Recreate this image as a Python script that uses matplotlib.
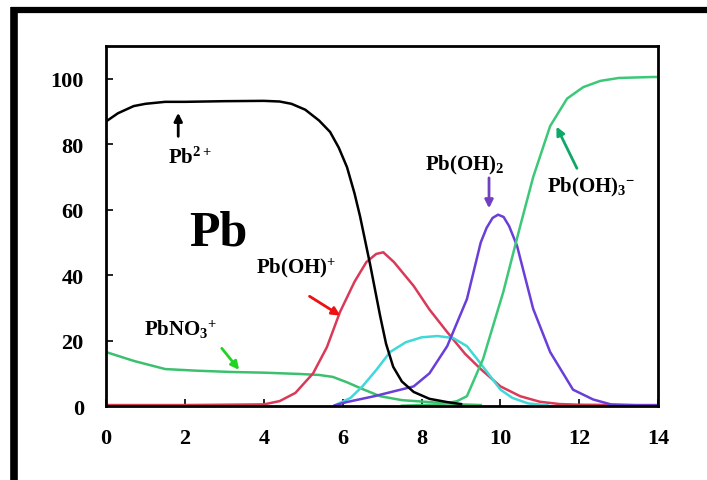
import numpy as np
import matplotlib.pyplot as plt
from matplotlib.lines import Line2D

plt.rcParams['font.family'] = ['Liberation Serif', 'DejaVu Serif']
plt.rcParams['font.weight'] = 'bold'
plt.rcParams['mathtext.fontset'] = 'custom'
plt.rcParams['mathtext.rm'] = 'Liberation Serif:bold'
plt.rcParams['mathtext.it'] = 'Liberation Serif:bold'
plt.rcParams['mathtext.bf'] = 'Liberation Serif:bold'

# 数据 (pH, %)---------------------------------------------------------------
pb2_x = [0, 0.3, 0.7, 1.0, 1.5, 2, 3, 4, 4.4, 4.7, 5.05, 5.4, 5.68, 5.9, 6.11,
         6.3, 6.44, 6.7, 6.95, 7.1, 7.28, 7.5, 7.8, 8.2, 8.65, 9.0]
pb2_y = [87, 89.5, 91.7, 92.4, 93, 93, 93.2, 93.3, 93.1, 92.4, 90.6, 87.3, 83.8, 79, 73,
         65, 58, 43, 27.5, 19, 12, 7.5, 4.3, 2.2, 1.2, 0.6]

pboh_x = [0, 2, 4, 4.4, 4.8, 5.25, 5.6, 5.93, 6.3, 6.6, 6.85, 7.03, 7.3, 7.8, 8.2,
          8.65, 9.1, 9.5, 10, 10.5, 11, 11.5, 12, 13, 14]
pboh_y = [0.3, 0.3, 0.5, 1.5, 4, 10, 18, 28.7, 38, 44, 46.5, 47, 44, 36.7, 29.5,
          22.6, 16, 11.3, 6, 3, 1.3, 0.6, 0.4, 0.3, 0.3]

cyan_x = [5.8, 6.2, 6.5, 6.85, 7.2, 7.6, 8.0, 8.4, 8.8, 9.15, 9.4, 9.66, 10.0, 10.3, 10.7, 11.2]
cyan_y = [0.2, 2.5, 6, 11, 16.5, 19.5, 21, 21.4, 20.8, 18.3, 14.5, 10.4, 5, 2.5, 0.8, 0.2]

pboh2_x = [5.8, 6.1, 6.8, 7.3, 7.8, 8.2, 8.65, 9.15, 9.5, 9.65, 9.8, 9.94, 10.08, 10.22, 10.42,
           10.83, 11.26, 11.84, 12.35, 12.8, 13.5, 14]
pboh2_y = [0.2, 1.2, 3, 4.5, 6, 10, 18.3, 32.7, 50, 54.5, 57.5, 58.5, 57.8, 55, 49,
           29.7, 16.5, 5, 2, 0.5, 0.2, 0.2]

pboh3_x = [7.5, 8.5, 8.9, 9.15, 9.56, 10.07, 10.5, 10.83, 11.26, 11.69, 12.1, 12.53, 13.0, 13.87, 14]
pboh3_y = [0.1, 0.5, 1.5, 3, 14.4, 34.8, 55, 70, 85.6, 94, 97.5, 99.4, 100.3, 100.6, 100.6]

pbno3_x = [0, 0.7, 1.5, 2.3, 3.2, 4.0, 4.9, 5.4, 5.75, 6.1, 6.5, 6.95, 7.5, 8.2, 9.0, 9.5]
pbno3_y = [16.5, 13.8, 11.3, 10.8, 10.4, 10.2, 9.8, 9.5, 8.9, 7.3, 5.2, 3, 1.8, 1.2, 0.5, 0.3]

xticks = [0, 2, 4, 6, 8, 10, 12, 14]
yticks = [0, 20, 40, 60, 80, 100]

# 绘图---------------------------------------------------------------
fig = plt.figure(figsize=(7.07, 4.81), dpi=100)
ax = fig.add_axes([0.150, 0.1538, 0.781, 0.748])

lw = 1.8
ax.plot(pbno3_x, pbno3_y, color='#3cc070', lw=lw)
ax.plot(pboh_x, pboh_y, color='#d83a58', lw=lw)
ax.plot(cyan_x, cyan_y, color='#40d8d8', lw=lw)
ax.plot(pboh2_x, pboh2_y, color='#6a3ed8', lw=lw)
ax.plot(pboh3_x, pboh3_y, color='#3cc878', lw=lw)
ax.plot(pb2_x, pb2_y, color='black', lw=lw)

ax.set_xlim(0, 14)
ax.set_ylim(0, 110)
ax.set_xticks(xticks)
ax.set_yticks(yticks)
ax.tick_params(direction='in', length=5, width=1.2, labelsize=16, pad=16)
for s in ax.spines.values():
    s.set_linewidth(2)

# 标注
ax.text(2.84, 53, 'Pb', fontsize=36, ha='center', va='center')

labels = [
    (r'Pb$^{2+}$', 2.13, 76.0, (1.83, 81.6), (1.83, 90.5), 'black'),
    (r'Pb(OH)$^{+}$', 4.82, 42.5, (5.1, 34), (6.0, 27.2), '#ee1111'),
    (r'PbNO$_3$$^{+}$', 1.88, 23.5, (2.89, 18.3), (3.42, 10.4), '#22d422'),
    (r'Pb(OH)$_2$', 9.1, 73.7, (9.71, 70.6), (9.71, 59.6), '#7040c0'),
    (r'Pb(OH)$_3$$^{-}$', 12.3, 67, (11.97, 71.9), (11.39, 86.2), '#10a868'),
]
for txt, tx, ty, start, end, c in labels:
    ax.text(tx, ty, txt, fontsize=15, ha='center', va='center')
    ax.annotate('', xy=end, xytext=start,
                arrowprops=dict(arrowstyle='-|>', color=c, lw=2, mutation_scale=12))

# 外框
fig.add_artist(Line2D([0.0194, 0.0194], [0, 0.984], transform=fig.transFigure,
                      color='black', lw=5.5, solid_capstyle='butt'))
fig.add_artist(Line2D([0.0155, 1.0], [0.978, 0.978], transform=fig.transFigure,
                      color='black', lw=4.5, solid_capstyle='butt'))

fig.savefig('out.png', dpi=100)
